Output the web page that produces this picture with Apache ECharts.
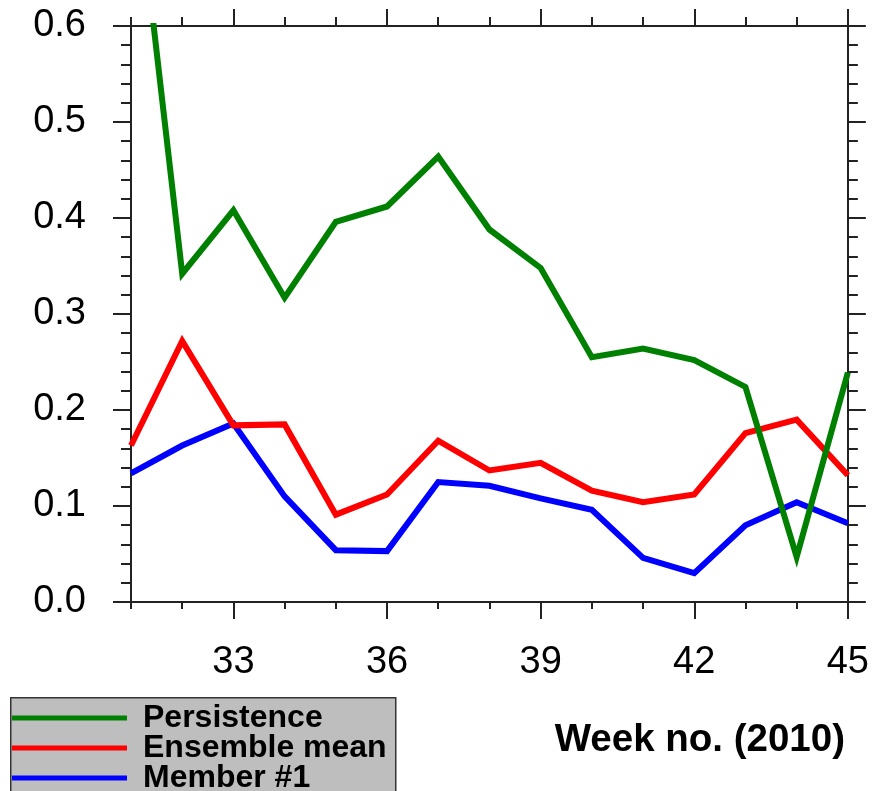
<!DOCTYPE html>
<html>
<head>
<meta charset="utf-8">
<script src="https://cdn.jsdelivr.net/npm/echarts@6/dist/echarts.min.js"></script>
<style>
html,body{margin:0;padding:0;background:#fff;}
#chart{width:872px;height:791px;}
</style>
</head>
<body>
<div id="chart"></div>
<script>
const weeks = [31,32,33,34,35,36,37,38,39,40,41,42,43,44,45];
const persistence = [0.805,0.342,0.408,0.317,0.396,0.412,0.464,0.388,0.348,0.255,0.264,0.252,0.224,0.047,0.239];
const ensembleMean = [0.163,0.272,0.184,0.185,0.091,0.112,0.168,0.137,0.145,0.116,0.104,0.112,0.176,0.190,0.132];
const member1 = [0.134,0.163,0.186,0.110,0.054,0.053,0.125,0.121,0.108,0.096,0.046,0.030,0.080,0.104,0.082];
const seriesNames = ['Persistence','Ensemble mean','Member #1'];
const seriesColors = ['#008000','#ff0000','#0000ff'];
const xLabelStep = 3;
const yTicks = [0.0,0.1,0.2,0.3,0.4,0.5,0.6];

const FONT = 'Liberation Sans';
const AX = '#222';
const cats = weeks.map(String);
const isMajor = (i) => weeks[i] % xLabelStep === 0;

function xAxisDef(pos, major, labels){
  return {
    type:'category', data:cats, boundaryGap:false, position:pos,
    axisLine:{show:!major, lineStyle:{color:AX,width:2}},
    axisTick:{show:true, inside:false, length: major?17:(pos==='top'?9:7),
      interval: major ? (i)=>isMajor(i) : 0,
      lineStyle:{color:AX,width:2}},
    axisLabel:{show:labels, interval:(i)=>isMajor(i), fontSize:38, color:'#000',
      fontFamily:FONT, margin:42},
    splitLine:{show:false}
  };
}
function yAxisDef(pos, labels){
  return {
    type:'value', min:yTicks[0], max:yTicks[yTicks.length-1], interval:0.1, position:pos,
    axisLine:{show:true, lineStyle:{color:AX,width:2}},
    axisTick:{show:true, inside:false, length:18, lineStyle:{color:AX,width:2}},
    minorTick:{show:true, splitNumber:5, length:10, lineStyle:{color:AX,width:2}},
    axisLabel:{show:labels, fontSize:38, color:'#000', fontFamily:FONT, margin:45,
      formatter:(v)=>v.toFixed(1)},
    splitLine:{show:false}, minorSplitLine:{show:false}
  };
}

const data = [persistence, ensembleMean, member1];
const series = [2,1,0].map(k => ({
  name: seriesNames[k], type:'line', xAxisIndex:0, yAxisIndex:0,
  data: data[k], symbol:'none', clip:true,
  lineStyle:{color:seriesColors[k], width:6, join:'miter'},
  itemStyle:{color:seriesColors[k]},
  z: 10-k
}));

const chart = echarts.init(document.getElementById('chart'), null, {renderer:'canvas'});
chart.setOption({
  animation:false,
  backgroundColor:'#fff',
  grid:{left:131, right:23, top:26, bottom:189, containLabel:false},
  xAxis:[xAxisDef('bottom',false,true), xAxisDef('bottom',true,false),
         xAxisDef('top',false,false), xAxisDef('top',true,false)],
  yAxis:[yAxisDef('left',true), yAxisDef('right',false)],
  title:{text:'Week no. (2010)', right:22, top:716,
    textStyle:{fontSize:38.5, fontWeight:'bold', color:'#000', fontFamily:FONT}},
  graphic:[{type:'rect', left:10, top:697, z:0,
    shape:{width:385, height:120},
    style:{fill:'#bebebe', stroke:'#333', lineWidth:1.5}}],
  legend:{
    orient:'vertical', left:12, top:702, icon:'rect', itemWidth:115, itemHeight:5, itemGap:-2,
    selectedMode:false, padding:0, height:100, data:seriesNames, z:5,
    textStyle:{fontSize:32, fontWeight:'bold', color:'#000', fontFamily:FONT, lineHeight:29,
      padding:[0,0,0,11]}
  },
  series: series
});
</script>
</body>
</html>
